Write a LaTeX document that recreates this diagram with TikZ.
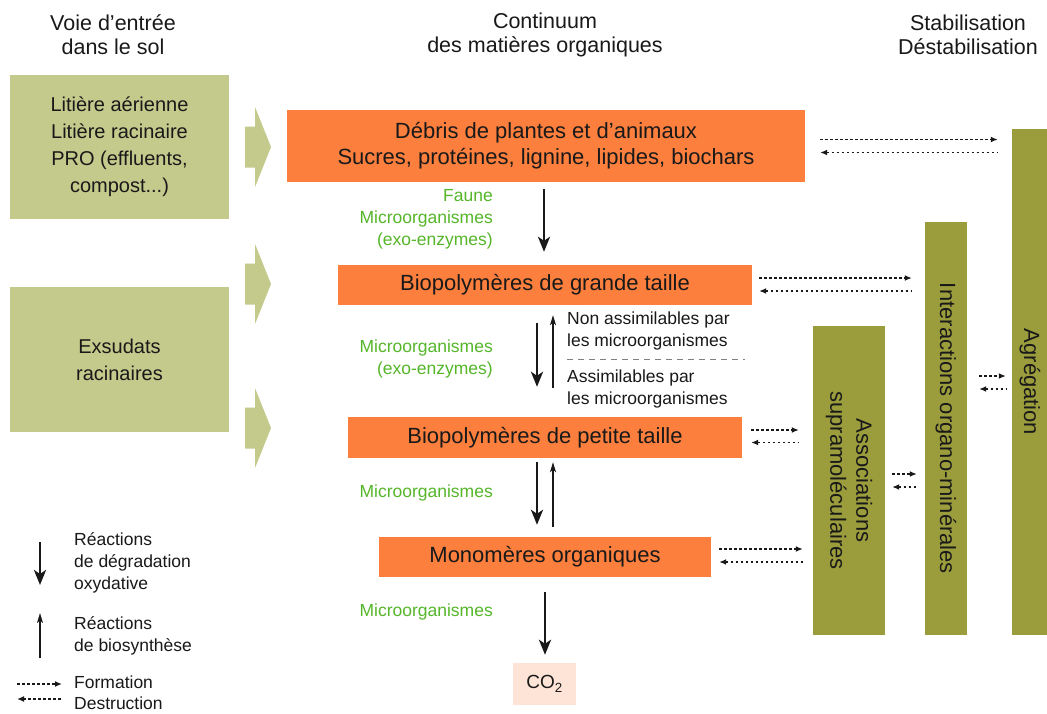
\documentclass[tikz,border=0pt]{standalone}
\usepackage{fontspec}
\setmainfont{Liberation Sans}
\usetikzlibrary{arrows.meta,calc}
\definecolor{orangebox}{RGB}{252,127,62}
\definecolor{olivelight}{RGB}{196,201,140}
\definecolor{olivedark}{RGB}{155,157,60}
\definecolor{greentxt}{RGB}{85,182,42}
\definecolor{co2fill}{RGB}{253,228,214}
\definecolor{txt}{RGB}{25,25,25}
\begin{document}
\begin{tikzpicture}[x=1pt,y=-1pt,
  big/.style={font=\fontsize{22}{26}\selectfont, text=txt},
  small/.style={font=\fontsize{17.5}{22}\selectfont},
  obox/.style={fill=orangebox, draw=none, inner sep=0pt, big, align=center},
  lbox/.style={fill=olivelight, inner sep=0pt, align=center, font=\fontsize{20}{27}\selectfont, text=txt},
  bar/.style={fill=olivedark, inner sep=0pt},
  bartext/.style={big, rotate=-90, align=center, inner sep=0pt},
  greenlbl/.style={small, text=greentxt, align=right, anchor=east, inner sep=0pt},
  blacklbl/.style={small, text=txt, align=left, anchor=west, inner sep=0pt},
  header/.style={font=\fontsize{21.5}{24}\selectfont, text=txt, align=center, inner sep=0pt},
  deg/.style={draw=txt, line width=2.8pt, -{Stealth[length=15pt,width=12pt,inset=4pt]}},
  bio/.style={draw=txt, line width=1.3pt, -{Stealth[length=10pt,width=6pt,inset=2.5pt]}},
  dotline/.style={draw=txt, line width=1.6pt, dash pattern=on 2.6pt off 2.4pt},
  formarrow/.style={dotline, -{Latex[length=7pt,width=6pt]}},
  destarrow/.style={dotline, {Latex[length=7pt,width=6pt]}-},
]
\fill[white] (0,0) rectangle (1047,713);
\useasboundingbox (0,0) rectangle (1047,713);

% headers
\node[header] (h1) at (113,35) {Voie d'entrée\\dans le sol};
\node[header] (h2) at (545,35) {Continuum\\des matières organiques};
\node[header] (h3) at (968,35) {Stabilisation\\Déstabilisation};

% left input boxes
\node[lbox, minimum width=219pt, minimum height=144pt] (L1) at (119.5,147) {Litière aérienne\\Litière racinaire\\PRO (effluents,\\compost...)};
\node[lbox, minimum width=219pt, minimum height=145pt] (L2) at (119.5,359.5) {Exsudats\\racinaires};

% chevrons
\foreach \c in {147,284,428}
  \fill[olivelight] (245,\c-20.5) -- (255,\c-20.5) -- (255,\c-40) -- (271,\c) -- (255,\c+40) -- (255,\c+20.5) -- (245,\c+20.5) -- cycle;

% organic matter continuum
\node[obox, minimum width=518pt, minimum height=72pt] (A) at (546,146) {Débris de plantes et d'animaux\\Sucres, protéines, lignine, lipides, biochars};
\node[obox, minimum width=414pt, minimum height=40pt] (B) at (545,285) {Biopolymères de grande taille};
\node[obox, minimum width=394pt, minimum height=41pt] (C) at (545,437.5) {Biopolymères de petite taille};
\node[obox, minimum width=332pt, minimum height=40pt] (D) at (545,557) {Monomères organiques};
\node[fill=co2fill, inner sep=0pt, minimum width=63pt, minimum height=42pt, font=\fontsize{19}{22}\selectfont, text=txt] (CO2) at (544.5,684) {CO\textsubscript{2}};

% stabilisation bars
\node[bar, minimum width=72pt, minimum height=309pt] (As) at (849,480.5) {};
\node[bartext] (AsT) at (As.center) {Associations\\supramoléculaires};
\node[bar, minimum width=42pt, minimum height=413pt] (In) at (946,428.5) {};
\node[bartext] (InT) at (In.center) {Interactions organo-minérales};
\node[bar, minimum width=36pt, minimum height=506pt] (Ag) at (1030,382) {};
\node[bartext] (AgT) at (Ag.center) {Agrégation};

% green labels
\node[greenlbl] (g1) at (493,219) {Faune\\Microorganismes\\(exo-enzymes)};
\node[greenlbl] (g2) at (493,359) {Microorganismes\\(exo-enzymes)};
\node[greenlbl] (g3) at (493,493) {Microorganismes};
\node[greenlbl] (g4) at (493,612) {Microorganismes};

% assimilability labels
\node[blacklbl] (n1) at (567,331) {Non assimilables par\\les microorganismes};
\node[blacklbl] (n2) at (567,389) {Assimilables par\\les microorganismes};
\coordinate (sepL) at (567,359);
\coordinate (sepR) at (745,359);
\draw[gray, line width=1pt, dash pattern=on 6pt off 5pt] (sepL) -- (sepR);

% vertical reaction arrows
\coordinate (x544) at (544,0);
\coordinate (x537) at (537,0);
\coordinate (x553) at (553,0);
\coordinate (x545) at (545,0);
\draw[deg, shorten <=7pt, shorten >=13pt] (A.south -| x544) -- (B.north -| x544);
\draw[deg, shorten <=18pt, shorten >=30pt] (B.south -| x537) -- (C.north -| x537);
\draw[bio, shorten <=29pt, shorten >=10pt] (C.north -| x553) -- (B.south -| x553);
\draw[deg, shorten <=4pt, shorten >=12pt] (C.south -| x537) -- (D.north -| x537);
\draw[bio, shorten <=10pt, shorten >=4pt] (D.north -| x553) -- (C.south -| x553);
\draw[deg, shorten <=15pt, shorten >=8pt] (D.south -| x545) -- (CO2.north -| x545);

% formation / destruction arrows
\draw[formarrow] ($(A.east)+(15,-6.5)$) -- ($(A.east -| Ag.west)+(-14,-6.5)$);
\draw[destarrow] ($(A.east)+(15,6.5)$) -- ($(A.east -| Ag.west)+(-14,6.5)$);
\draw[formarrow] ($(B.east)+(7,-7)$) -- ($(B.east -| In.west)+(-13,-7)$);
\draw[destarrow] ($(B.east)+(7,6)$) -- ($(B.east -| In.west)+(-13,6)$);
\draw[formarrow] ($(C.east)+(9,-7.5)$) -- ($(C.east -| As.west)+(-14,-7.5)$);
\draw[destarrow] ($(C.east)+(9,5)$) -- ($(C.east -| As.west)+(-14,5)$);
\draw[formarrow] ($(D.east)+(8,-8)$) -- ($(D.east -| As.west)+(-10,-8)$);
\draw[destarrow] ($(D.east)+(8,5)$) -- ($(D.east -| As.west)+(-10,5)$);
\draw[formarrow] ($(As.east)+(7,-6.5)$) -- ($(As.east -| In.west)+(-8,-6.5)$);
\draw[destarrow] ($(As.east)+(7,6.5)$) -- ($(As.east -| In.west)+(-8,6.5)$);
\draw[formarrow] ($(In.east)+(12,-52.5)$) -- ($(In.east -| Ag.west)+(-6,-52.5)$);
\draw[destarrow] ($(In.east)+(12,-39.5)$) -- ($(In.east -| Ag.west)+(-6,-39.5)$);

% legend
\coordinate (lg1a) at (40,542);
\coordinate (lg1b) at (40,585);
\draw[deg] (lg1a) -- (lg1b);
\coordinate (lg2a) at (40,658);
\coordinate (lg2b) at (40,613);
\draw[bio] (lg2a) -- (lg2b);
\coordinate (lg3a) at (17,684);
\coordinate (lg3b) at (62,684);
\draw[formarrow] (lg3a) -- (lg3b);
\coordinate (lg4a) at (17,699);
\coordinate (lg4b) at (62,699);
\draw[destarrow] (lg4a) -- (lg4b);
\node[blacklbl] (t1) at (74,563) {Réactions\\de dégradation\\oxydative};
\node[blacklbl] (t2) at (74,636) {Réactions\\de biosynthèse};
\node[blacklbl] (t3) at (74,682) {Formation};
\node[blacklbl] (t4) at (74,703) {Destruction};
\end{tikzpicture}
\end{document}
